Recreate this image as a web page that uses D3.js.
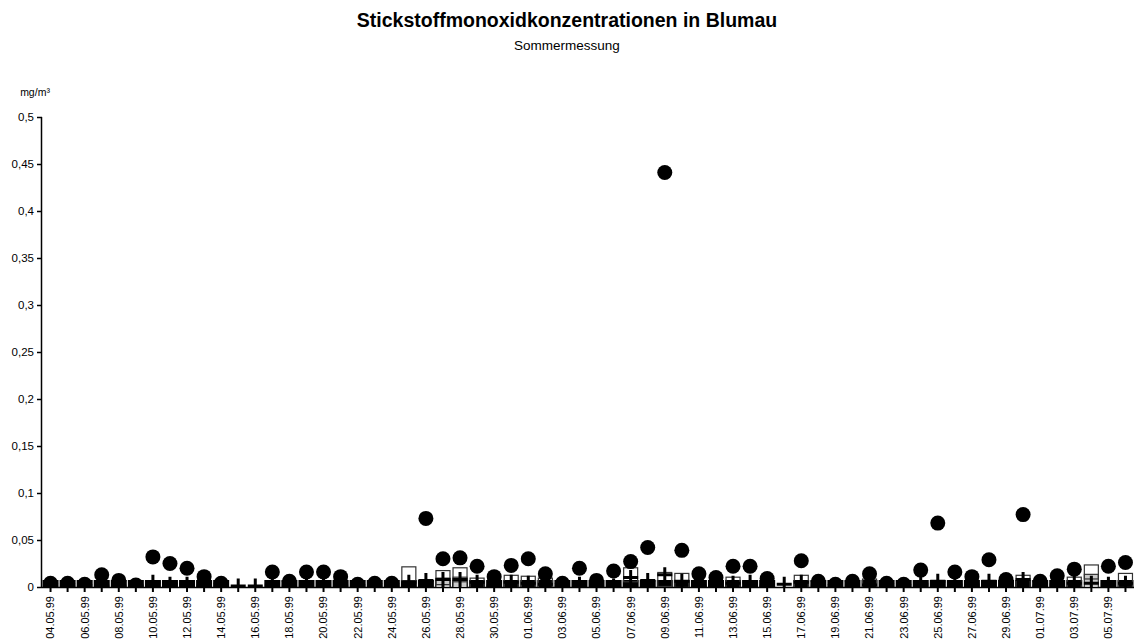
<!DOCTYPE html>
<html>
<head>
<meta charset="utf-8">
<script src="https://cdn.jsdelivr.net/npm/d3@7"></script>
<style>
  html, body { margin: 0; padding: 0; background: #fff; }
  svg { display: block; font-family: "Liberation Sans", Arial, sans-serif; }
</style>
</head>
<body>
<svg id="chart" width="1134" height="644"></svg>
<script>
// Messtage 04.05.99 – 06.07.99
const dates = [
  "04.05.99","05.05.99","06.05.99","07.05.99","08.05.99","09.05.99","10.05.99","11.05.99",
  "12.05.99","13.05.99","14.05.99","15.05.99","16.05.99","17.05.99","18.05.99","19.05.99",
  "20.05.99","21.05.99","22.05.99","23.05.99","24.05.99","25.05.99","26.05.99","27.05.99",
  "28.05.99","29.05.99","30.05.99","31.05.99","01.06.99","02.06.99","03.06.99","04.06.99",
  "05.06.99","06.06.99","07.06.99","08.06.99","09.06.99","10.06.99","11.06.99","12.06.99",
  "13.06.99","14.06.99","15.06.99","16.06.99","17.06.99","18.06.99","19.06.99","20.06.99",
  "21.06.99","22.06.99","23.06.99","24.06.99","25.06.99","26.06.99","27.06.99","28.06.99",
  "29.06.99","30.06.99","01.07.99","02.07.99","03.07.99","04.07.99","05.07.99","06.07.99"
];

// Tagesmaxima (gefüllte Kreise)
const circleValues = [
  0.004,0.004,0.003,0.013,0.007,0.002,0.032,0.025,
  0.020,0.011,0.004,null,null,0.016,0.006,0.016,
  0.016,0.011,0.003,0.004,0.004,null,0.073,0.030,
  0.031,0.022,0.011,0.023,0.030,0.014,0.004,0.020,
  0.007,0.017,0.027,0.042,0.441,0.039,0.014,0.010,
  0.022,0.022,0.009,null,0.028,0.006,0.003,0.006,
  0.014,0.004,0.003,0.018,0.068,0.016,0.011,0.029,
  0.008,0.077,0.006,0.012,0.019,null,0.022,0.026
];

// offene Quadrate
const squareValues = [
  null,null,null,null,null,null,null,null,
  null,null,null,null,null,null,null,null,
  null,null,null,null,null,0.014,null,0.010,
  0.013,0.002,null,0.005,0.004,0.002,null,null,
  null,null,0.013,null,0.008,0.007,null,null,
  0.003,null,null,null,0.005,null,null,null,
  0.001,null,null,null,null,null,null,null,
  null,0.005,null,null,0.003,0.016,null,0.007
];

// grau gefüllte Quadrate
const greySquareValues = [
  null,null,null,null,null,null,null,null,
  null,null,null,null,null,null,null,null,
  null,null,null,null,null,null,null,0.002,
  0.003,null,null,null,null,null,null,null,
  null,null,null,null,null,null,null,null,
  null,null,null,null,null,null,null,null,
  null,null,null,null,null,null,null,null,
  null,null,null,null,null,0.006,null,null
];

// Kreuze
const plusValues = [
  0.001,0.001,0.001,0.001,0.001,0.001,0.005,0.003,
  0.003,0.001,0.001,0.001,0.001,0.002,0.001,0.001,
  0.002,0.001,0.001,0.001,0.001,0.005,0.007,0.008,
  0.008,0.005,0.001,0.005,0.004,0.003,0.001,0.003,
  0.001,0.001,0.010,0.007,0.013,0.006,0.001,0.001,
  0.004,0.005,0.001,0.003,0.005,0.001,0.001,0.001,
  0.002,0.001,0.001,0.003,0.006,0.002,0.002,0.006,
  0.001,0.008,0.001,0.002,0.004,0.004,0.003,0.004
];

// gefüllte schwarze Quadrate
const blockValues = [
  0,0,0,0,0,0,0,0,
  0,0,0,null,null,0,0,0,
  0,0,0,0,0,0,0,0,
  0,0,0,0,0,0,0,0,
  0,0,0,0,0,0,0,0,
  0,0,0,null,0,0,0,0,
  0,0,0,0,0,0,0,0,
  0,0,0,0,0,null,0,0
];

const yTicks = [0,0.05,0.1,0.15,0.2,0.25,0.3,0.35,0.4,0.45,0.5];

const svg = d3.select("#chart");
const margin = {left: 42, right: 0, top: 117, bottom: 57};
const W = 1134, H = 644;

const x = d3.scaleBand().domain(dates).range([margin.left, W - margin.right]).padding(0);
const y = d3.scaleLinear().domain([0, 0.5]).range([H - margin.bottom, margin.top]);
const cx = d => x(d) + x.bandwidth() / 2;
const fmt = v => String(+v.toFixed(2)).replace(".", ",");

// Titel
svg.append("text").attr("x", 567).attr("y", 27).attr("text-anchor", "middle")
  .attr("font-size", 19.5).attr("font-weight", "bold").text("Stickstoffmonoxidkonzentrationen in Blumau");
svg.append("text").attr("x", 567).attr("y", 50).attr("text-anchor", "middle")
  .attr("font-size", 13.5).text("Sommermessung");
svg.append("text").attr("x", 35).attr("y", 96).attr("text-anchor", "middle")
  .attr("font-size", 10.5).text("mg/m³");

// y-Achse
const yAxis = svg.append("g").attr("transform", `translate(${margin.left},0)`)
  .call(d3.axisLeft(y).tickValues(yTicks).tickSize(5).tickFormat(fmt));
yAxis.select(".domain").attr("stroke", "#000").attr("stroke-width", 1.5).attr("d", `M-0.5,${y(0.5)}V${y(0)}`);
yAxis.selectAll(".tick line").attr("stroke", "#000").attr("stroke-width", 1.5);
yAxis.selectAll(".tick text").attr("font-size", 11.5).attr("font-family", "Liberation Sans, Arial, sans-serif")
  .attr("fill", "#000").attr("x", -8);

// x-Achse mit Teilstrichen in Kategoriemitte
const xAxis = svg.append("g").attr("transform", `translate(0,${y(0)})`)
  .call(d3.axisBottom(x).tickSize(5).tickFormat((d, i) => i % 2 === 0 ? d : ""));
xAxis.select(".domain").attr("stroke", "#000").attr("stroke-width", 1.5).attr("d", `M${margin.left},0.5H${W}`);
xAxis.selectAll(".tick line").attr("stroke", "#000").attr("stroke-width", 2);
xAxis.selectAll(".tick text")
  .attr("font-size", 11).attr("font-family", "Liberation Sans, Arial, sans-serif").attr("fill", "#000")
  .attr("transform", "rotate(-90)").attr("text-anchor", "end")
  .attr("x", -9).attr("y", 0).attr("dy", "0.35em");

// Zeichenfläche, Marker werden an ihr abgeschnitten
svg.append("clipPath").attr("id", "plot-area").append("rect")
  .attr("x", margin.left).attr("y", margin.top - 10)
  .attr("width", W - margin.left).attr("height", y(0) - margin.top + 10);
const plot = svg.append("g").attr("clip-path", "url(#plot-area)");

const points = vals => dates.map((d, i) => ({d, v: vals[i]})).filter(p => p.v != null);

// gefüllte schwarze Quadrate
plot.append("g").selectAll("rect").data(points(blockValues)).join("rect")
  .attr("x", p => cx(p.d) - 8).attr("y", p => y(p.v) - 7)
  .attr("width", 16).attr("height", 14).attr("fill", "#000");

// grau gefüllte Quadrate
plot.append("g").selectAll("rect").data(points(greySquareValues)).join("rect")
  .attr("x", p => cx(p.d) - 7).attr("y", p => y(p.v) - 7)
  .attr("width", 14).attr("height", 14).attr("fill", "#c8c8c8").attr("stroke", "#333").attr("stroke-width", 1.2);

// offene Quadrate
plot.append("g").selectAll("rect").data(points(squareValues)).join("rect")
  .attr("x", p => cx(p.d) - 7).attr("y", p => y(p.v) - 7)
  .attr("width", 14).attr("height", 14).attr("fill", "none").attr("stroke", "#333").attr("stroke-width", 1.2);

// Kreuze
plot.append("g").selectAll("path").data(points(plusValues)).join("path")
  .attr("d", p => `M${cx(p.d) - 7.5},${y(p.v)}h15M${cx(p.d)},${y(p.v) - 7.5}v15`)
  .attr("stroke", "#000").attr("stroke-width", 3).attr("fill", "none");

// Kreise
plot.append("g").selectAll("circle").data(points(circleValues)).join("circle")
  .attr("cx", p => cx(p.d)).attr("cy", p => y(p.v)).attr("r", 7.5).attr("fill", "#000");
</script>
</body>
</html>
